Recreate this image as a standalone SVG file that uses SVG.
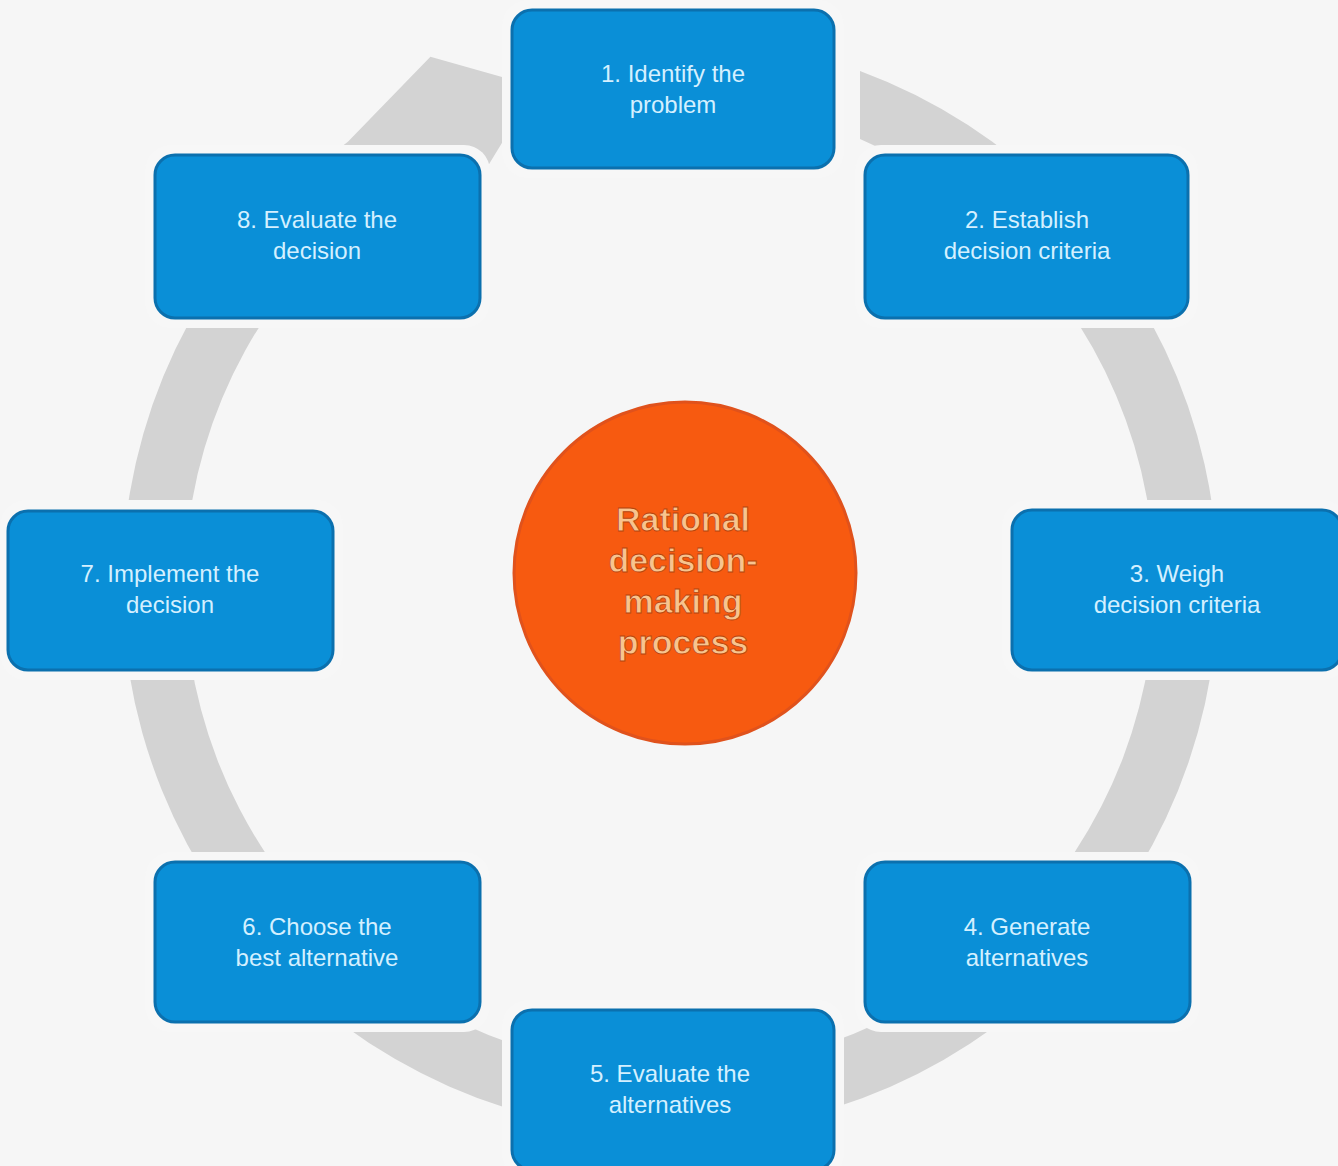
<svg xmlns="http://www.w3.org/2000/svg" width="1338" height="1166" viewBox="0 0 1338 1166">
<style>
.bg{fill:#f6f6f6}
.ring{fill:#d3d3d3}
.halo{fill:#f7f7f7}
.box{fill:#0a8fd7;stroke:#0b70ae;stroke-width:3}
.lbl{font-family:"Liberation Sans",Arial,sans-serif;font-size:24px;fill:#d4f0ff;text-anchor:middle}
.hub{fill:#f75a10;stroke:#e0521c;stroke-width:3}
.hubt{font-family:"Liberation Sans",Arial,sans-serif;font-size:34px;font-weight:bold;fill:#f8c48e;stroke:#b5440e;stroke-width:0.8;text-anchor:middle}
</style>
<rect class="bg" x="0" y="0" width="1338" height="1166"/>
<g id="connectors">
<path class="ring" d="M 860 71 A 548 548 0 1 1 347.9 141.7 L 430.4 56.8 L 536.4 86.6 L 483.3 173.4 L 384.9 192.6 A 485 485 0 1 0 860 139 Z"/>
</g>
<g id="n1">
<rect class="halo" x="502" y="0" width="342" height="178" rx="26"/>
<rect class="box" x="512" y="10" width="322" height="158" rx="20"/>
<text class="lbl" x="673" y="82">1. Identify the</text>
<text class="lbl" x="673" y="113">problem</text>
</g>
<g id="n2">
<rect class="halo" x="855" y="145" width="343" height="183" rx="26"/>
<rect class="box" x="865" y="155" width="323" height="163" rx="20"/>
<text class="lbl" x="1027" y="228">2. Establish</text>
<text class="lbl" x="1027" y="259">decision criteria</text>
</g>
<g id="n3">
<rect class="halo" x="1002" y="500" width="346" height="180" rx="26"/>
<rect class="box" x="1012" y="510" width="330" height="160" rx="20"/>
<text class="lbl" x="1177" y="582">3. Weigh</text>
<text class="lbl" x="1177" y="613">decision criteria</text>
</g>
<g id="n4">
<rect class="halo" x="855" y="852" width="345" height="180" rx="26"/>
<rect class="box" x="865" y="862" width="325" height="160" rx="20"/>
<text class="lbl" x="1027" y="935">4. Generate</text>
<text class="lbl" x="1027" y="966">alternatives</text>
</g>
<g id="n5">
<rect class="halo" x="502" y="1000" width="342" height="180" rx="26"/>
<rect class="box" x="512" y="1010" width="322" height="160" rx="20"/>
<text class="lbl" x="670" y="1082">5. Evaluate the</text>
<text class="lbl" x="670" y="1113">alternatives</text>
</g>
<g id="n6">
<rect class="halo" x="145" y="852" width="345" height="180" rx="26"/>
<rect class="box" x="155" y="862" width="325" height="160" rx="20"/>
<text class="lbl" x="317" y="935">6. Choose the</text>
<text class="lbl" x="317" y="966">best alternative</text>
</g>
<g id="n7">
<rect class="halo" x="0" y="500" width="343" height="180" rx="26"/>
<rect class="box" x="8" y="511" width="325" height="159" rx="20"/>
<text class="lbl" x="170" y="582">7. Implement the</text>
<text class="lbl" x="170" y="613">decision</text>
</g>
<g id="n8">
<rect class="halo" x="145" y="145" width="345" height="183" rx="26"/>
<rect class="box" x="155" y="155" width="325" height="163" rx="20"/>
<text class="lbl" x="317" y="228">8. Evaluate the</text>
<text class="lbl" x="317" y="259">decision</text>
</g>
<g id="center">
<circle class="hub" cx="685" cy="573" r="171"/>
<text class="hubt" x="683" y="531">Rational</text>
<text class="hubt" x="683" y="572">decision-</text>
<text class="hubt" x="683" y="613">making</text>
<text class="hubt" x="683" y="654">process</text>
</g>
</svg>
